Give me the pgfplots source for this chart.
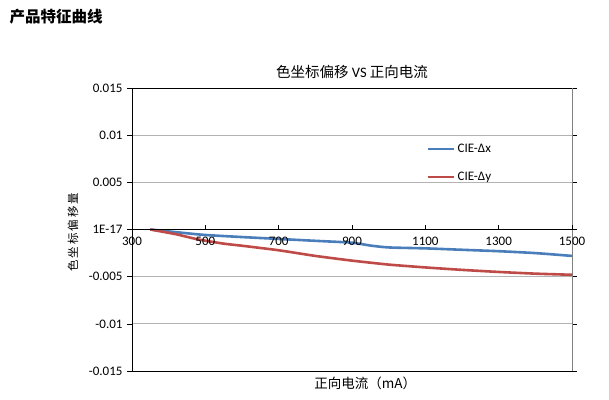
\documentclass[border=0pt]{standalone}
\usepackage{pgfplots}
\pgfplotsset{compat=1.18}
\usepackage{fontspec}
\setmainfont{Carlito}
\newfontfamily\cjk{Noto Sans CJK SC}
\definecolor{cblue}{RGB}{74,126,187}
\definecolor{cred}{RGB}{190,75,72}
\begin{document}
\begin{tikzpicture}
\path[use as bounding box] (0pt,0pt) rectangle (609pt,-399pt);
\node[anchor=west,font=\cjk\fontsize{15.5}{18}\selectfont\bfseries] at (6pt,-17pt) {产品特征曲线};
\begin{axis}[
  at={(132pt,-371pt)}, anchor=south west,
  scale only axis, width=440pt, height=283pt,
  xmin=300, xmax=1500, ymin=-0.015, ymax=0.015,
  axis line style={draw=none},
  xtick=\empty,
  scaled ticks=false,
  ytick={-0.015,-0.01,-0.005,0,0.005,0.01,0.015},
  yticklabels={-0.015,-0.01,-0.005,1E-17,0.005,0.01,0.015},
  tick align=outside, ytick style={black, thin}, major tick length=5pt,
  yticklabel style={font=\fontsize{13}{15}\selectfont, xshift=-1pt},
  ymajorgrids, grid style={gray!60, line width=0.7pt},
  clip=false,
  legend style={at={(rel axis cs:0.670,0.810)}, anchor=north west, draw=none, fill=none,
    font=\fontsize{13}{15}\selectfont, row sep=14pt, inner sep=0pt},
  legend cell align=left,
  legend image code/.code={\draw[#1] (0pt,0pt) -- (26pt,0pt);},
]
\draw[black, line width=0.8pt] (rel axis cs:0,1) -- (rel axis cs:0,0) -- (rel axis cs:1,0);
\draw[black, line width=0.8pt] (rel axis cs:0,1) -- (rel axis cs:1,1);
\draw[gray, line width=0.8pt] (rel axis cs:1,1) -- (rel axis cs:1,0);
\addplot[cblue, line width=2.6pt, smooth, tension=0.4] coordinates {
 (350,0) (450,-0.0004) (500,-0.00058) (600,-0.0008) (700,-0.001) (800,-0.0012) (900,-0.0014) (950,-0.0017) (1000,-0.0019) (1100,-0.002) (1200,-0.00215) (1300,-0.0023) (1400,-0.0025) (1500,-0.0028)};
\addlegendentry{CIE-Δx}
\addplot[cred, line width=2.6pt, smooth, tension=0.3] coordinates {
 (350,0) (420,-0.0005) (480,-0.00105) (550,-0.0015) (600,-0.00172) (700,-0.0022) (800,-0.0028) (900,-0.0033) (1000,-0.00372) (1100,-0.00402) (1200,-0.00428) (1300,-0.0045) (1400,-0.00468) (1500,-0.0048)};
\addlegendentry{CIE-Δy}
\node[font=\fontsize{14.5}{16}\selectfont] at (rel axis cs:0.5,1.0565) {{\cjk 色坐标偏移} VS {\cjk 正向电流}};
\node[font=\cjk\fontsize{13.5}{15}\selectfont] at (rel axis cs:0.530,-0.042) {正向电流（mA）};
\node[font=\cjk\fontsize{11.5}{13}\selectfont, rotate=90] at (rel axis cs:-0.134,0.49) {色\,坐\,标\,偏\,移\,量};
\end{axis}
\begin{axis}[
  at={(132pt,-371pt)}, anchor=south west,
  scale only axis, width=440pt, height=283pt,
  xmin=300, xmax=1500, ymin=-0.015, ymax=0.015,
  axis x line=middle, axis y line=none,
  x axis line style={-, black, line width=0.8pt},
  xtick={300,500,700,900,1100,1300,1500},
  /pgf/number format/assume math mode=true,
  /pgf/number format/1000 sep={},
  xticklabel style={font=\fontsize{13}{15}\selectfont, anchor=north, yshift=-4pt},
  xtick align=inside, xtick style={black, thin}, major tick length=5pt,
  ytick=\empty,
]
\end{axis}
\end{tikzpicture}
\end{document}
